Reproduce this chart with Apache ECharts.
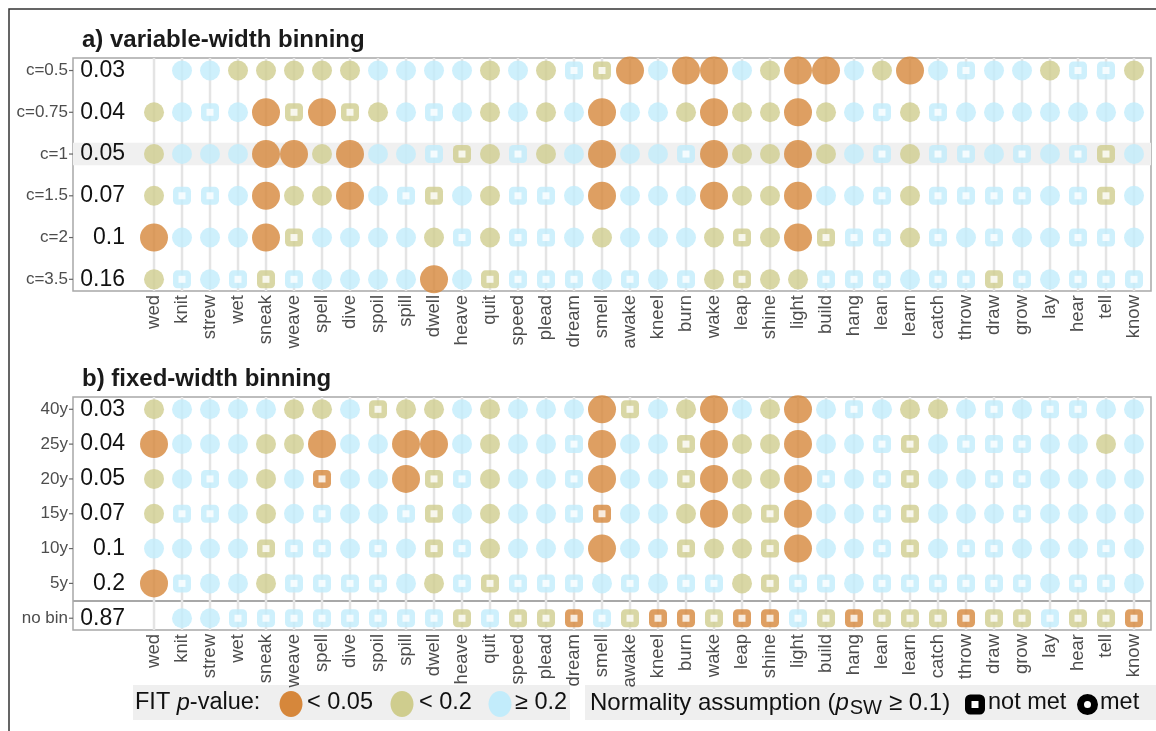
<!DOCTYPE html>
<html>
<head>
<meta charset="utf-8">
<script src="https://cdn.jsdelivr.net/npm/echarts@6/dist/echarts.min.js"></script>
<style>
html, body { margin: 0; padding: 0; background: #fff; }
#chart { width: 1156px; height: 731px; }
</style>
</head>
<body>
<div id="chart"></div>
<script>
// verbs on the x axis
var verbs = ['wed','knit','strew','wet','sneak','weave','spell','dive','spoil','spill','dwell','heave',
  'quit','speed','plead','dream','smell','awake','kneel','burn','wake','leap','shine','light','build',
  'hang','lean','learn','catch','throw','draw','grow','lay','hear','tell','know'];

var rowsA = ['c=0.5','c=0.75','c=1','c=1.5','c=2','c=3.5'];
var pA = ['0.03','0.04','0.05','0.07','0.1','0.16'];
var rowsB = ['40y','25y','20y','15y','10y','5y','no bin'];
var pB = ['0.03','0.04','0.05','0.07','0.1','0.2','0.87'];

// O/K/B = circle (normality met), o/k/b = square (not met); orange <0.05, khaki <0.2, blue >=0.2; - = none
var a_c05  = '-BBKKKKKBBBB KBKbkOBOOBKOO BKOBbBBKbbK';
var a_c075 = 'KBbBOkOkKBbB KBKBOBBKOKKOK BbKbBBBBBBB';
var a_c1   = 'KBBBOOKOBBbk KbKBOBBbOKKOK BbKbbBbBbkB';
var a_c15  = 'KbbBOKKOBbkB KbbBOBBBOKKOB BbKbbbbBbkB';
var a_c2   = 'OBBBOkBBBBKb KbbBKBBBKkKOk bbKbBbBBbbB';
var a_c35  = 'KbBbkbBBBBOB kbbbBbBbKkKKb bbBbbkbBbbb';

var b_40 = 'KBBBBKKBkKKB KBBBOkBKOBKOB bBKKBbBbbBB';
var b_25 = 'OBBBKKOBBOOB KBBbOBBkOKKOB BbkBbbbBBKB';
var b_20 = 'KBbBKBoBBOkb KBBbOBBkOKKOb BbkBBbbBBBB';
var b_15 = 'KbbBKBbBBbkB KBBboBBKOKkOB BbkBBBbBBBB';
var b_10 = 'BBBBkbbBbBkb KBBBOBBkKKkOB BbkBbbBBBbB';
var b_5  = 'ObBBKbbbbBKb kbbbBbBbbKkbb BbbbbbbBbbB';
var b_nb = '-BBbbbbbbbbk bkkobkookoobk okkkokkbkko';

var cellsA = [a_c05, a_c075, a_c1, a_c15, a_c2, a_c35];
var cellsB = [b_40, b_25, b_20, b_15, b_10, b_5, b_nb];

var ORANGE = '#D6873B', KHAKI = '#CFCD8E', BLUE = '#C2ECFB';
var GUIDE = '#e4e4e4';
var colorOf = { o: ORANGE, k: KHAKI, b: BLUE };
var X0 = 10; // column positions start at X0 so the x scale never contains zero

// marks: circles and squares, plus the white hole of the squares
function buildData(rows, holes) {
  var out = [];
  rows.forEach(function (s, r) {
    s.replace(/ /g, '').split('').forEach(function (c, i) {
      if (c === '-') return;
      var low = c.toLowerCase();
      var col = colorOf[low];
      var isSquare = c === low;
      var pos = [X0 + i, r];
      if (holes) {
        if (isSquare) out.push({ value: pos, symbol: 'rect', symbolSize: 7, itemStyle: { color: '#fff' } });
        return;
      }
      if (!isSquare) {
        out.push({ value: pos, symbol: 'circle', symbolSize: low === 'o' ? 28 : 20, itemStyle: { color: col } });
      } else {
        out.push({ value: pos, symbol: 'roundRect', symbolSize: 18, itemStyle: { color: col } });
      }
    });
  });
  return out;
}

var colPos = verbs.map(function (v, i) { return X0 + i; });
var FONT = 'Liberation Sans';
var hiddenLine = { show: false, onZero: false };

function xAxisFor(gi) {
  return {
    type: 'value', gridIndex: gi, min: X0 - 2.893, max: X0 + 35.607,
    axisLine: hiddenLine, axisTick: { show: false }, splitLine: { show: false },
    axisLabel: {
      customValues: colPos, rotate: 90, margin: 4,
      fontFamily: FONT, fontSize: 18.5, color: '#4d4d4d',
      formatter: function (v) { return verbs[Math.round(v) - X0]; }
    }
  };
}

function yAxesFor(gi, labels, pvals, min, max) {
  var idx = labels.map(function (v, i) { return i; });
  return [{
    type: 'value', gridIndex: gi, inverse: true, min: min, max: max, position: 'left', z: 5,
    axisLine: hiddenLine, splitLine: { show: false }, axisTick: { show: false },
    axisLabel: {
      customValues: idx, margin: 0, color: '#4d4d4d',
      formatter: function (v) { return '{l|' + labels[Math.round(v)] + '}{t|}'; },
      rich: {
        l: { fontFamily: FONT, fontSize: 17, color: '#4d4d4d', padding: [0, 1, 0, 0] },
        t: { width: 4, height: 1.2, backgroundColor: '#666' }
      }
    }
  }, {
    type: 'value', gridIndex: gi, inverse: true, min: min, max: max, position: 'left', z: 5,
    axisLine: hiddenLine, splitLine: { show: false }, axisTick: { show: false },
    axisLabel: {
      customValues: idx, inside: true, align: 'right', margin: 52,
      fontFamily: FONT, fontSize: 23, color: '#111',
      formatter: function (v) { return pvals[Math.round(v)]; }
    }
  }];
}

// vertical guide line through every verb column, full height of the panel
function guideSeries(xi, yi) {
  return {
    type: 'custom', xAxisIndex: xi, yAxisIndex: yi, silent: true, z: 2,
    data: colPos.map(function (p) { return [p]; }),
    renderItem: function (params, api) {
      var cs = params.coordSys;
      var x = api.coord([api.value(0), 0])[0];
      return { type: 'line', shape: { x1: x, y1: cs.y, x2: x, y2: cs.y + cs.height },
        style: { stroke: GUIDE, lineWidth: 2.5 } };
    }
  };
}

var option = {
  backgroundColor: '#fff',
  animation: false,
  grid: [
    { left: 73, right: 5, top: 58, bottom: 440, show: true, borderColor: '#a8a8a8', borderWidth: 1.5 },
    { left: 73, right: 5, top: 397, bottom: 101, show: true, borderColor: '#a8a8a8', borderWidth: 1.5 }
  ],
  xAxis: [xAxisFor(0), xAxisFor(1)],
  yAxis: yAxesFor(0, rowsA, pA, -0.3, 5.28).concat(yAxesFor(1, rowsB, pB, -0.353, 6.338)),
  series: [
    {
      type: 'line', xAxisIndex: 0, yAxisIndex: 0, data: [], silent: true, z: 1,
      markArea: { silent: true, z: 1, itemStyle: { color: '#f0f0f0' }, data: [[{ yAxis: 1.73 }, { yAxis: 2.27 }]] }
    },
    guideSeries(0, 0),
    guideSeries(1, 2),
    {
      type: 'line', xAxisIndex: 1, yAxisIndex: 2, data: [], silent: true, z: 2,
      markLine: { silent: true, z: 2, symbol: ['none', 'none'], label: { show: false },
        lineStyle: { color: '#a8a8a8', width: 2, type: 'solid' }, data: [{ yAxis: 5.5 }] }
    },
    { type: 'scatter', xAxisIndex: 0, yAxisIndex: 0, silent: true, z: 3, data: buildData(cellsA, false) },
    { type: 'scatter', xAxisIndex: 0, yAxisIndex: 0, silent: true, z: 4, data: buildData(cellsA, true) },
    { type: 'scatter', xAxisIndex: 1, yAxisIndex: 2, silent: true, z: 3, data: buildData(cellsB, false) },
    { type: 'scatter', xAxisIndex: 1, yAxisIndex: 2, silent: true, z: 4, data: buildData(cellsB, true) }
  ],
  graphic: [
    { type: 'polyline', shape: { points: [[9, 731], [9, 9], [1156, 9]] }, style: { stroke: '#333', lineWidth: 1.5, fill: null } },
    { type: 'text', x: 82, y: 40, style: { text: 'a) variable-width binning', font: 'bold 24px "Liberation Sans"', fill: '#1a1a1a', verticalAlign: 'middle' } },
    { type: 'text', x: 82, y: 379, style: { text: 'b) fixed-width binning', font: 'bold 24px "Liberation Sans"', fill: '#1a1a1a', verticalAlign: 'middle' } },
    // legend: FIT p-value
    { type: 'rect', shape: { x: 133, y: 685, width: 437, height: 35 }, style: { fill: '#efefef' } },
    { type: 'text', x: 135, y: 703, style: {
      text: '{n|FIT }{i|p}{n|-value:}', verticalAlign: 'middle', fill: '#111',
      rich: { n: { fontFamily: FONT, fontSize: 23.5, fill: '#111' }, i: { fontFamily: FONT, fontSize: 23.5, fontStyle: 'italic', fill: '#111' } } } },
    { type: 'ellipse', shape: { cx: 291, cy: 704, rx: 11.5, ry: 13 }, style: { fill: ORANGE } },
    { type: 'text', x: 307, y: 703, style: { text: '< 0.05', font: '23.5px "Liberation Sans"', fill: '#111', verticalAlign: 'middle' } },
    { type: 'ellipse', shape: { cx: 402, cy: 704, rx: 11.5, ry: 13 }, style: { fill: KHAKI } },
    { type: 'text', x: 419, y: 703, style: { text: '< 0.2', font: '23.5px "Liberation Sans"', fill: '#111', verticalAlign: 'middle' } },
    { type: 'ellipse', shape: { cx: 500, cy: 704, rx: 11.5, ry: 13 }, style: { fill: BLUE } },
    { type: 'text', x: 515, y: 703, style: { text: '≥ 0.2', font: '23.5px "Liberation Sans"', fill: '#111', verticalAlign: 'middle' } },
    // legend: normality
    { type: 'rect', shape: { x: 585, y: 685, width: 571, height: 35 }, style: { fill: '#efefef' } },
    { type: 'text', x: 590, y: 703, style: {
      text: '{n|Normality assumption (}{i|p}{s|SW}{n|≥ 0.1)}', verticalAlign: 'middle', fill: '#111',
      rich: {
        n: { fontFamily: FONT, fontSize: 24, fill: '#111' },
        i: { fontFamily: FONT, fontSize: 24, fontStyle: 'italic', fill: '#111' },
        s: { fontFamily: FONT, fontSize: 20, fill: '#111', padding: [11, 7, 0, 1] }
      } } },
    { type: 'rect', shape: { x: 968.25, y: 697.75, width: 13.5, height: 13.5, r: 2 }, style: { fill: '#fff', stroke: '#000', lineWidth: 6.5 } },
    { type: 'text', x: 988, y: 703, style: { text: 'not met', font: '23.5px "Liberation Sans"', fill: '#111', verticalAlign: 'middle' } },
    { type: 'circle', shape: { cx: 1087.5, cy: 704.5, r: 7 }, style: { fill: '#fff', stroke: '#000', lineWidth: 7 } },
    { type: 'text', x: 1100, y: 703, style: { text: 'met', font: '23.5px "Liberation Sans"', fill: '#111', verticalAlign: 'middle' } }
  ]
};

var chart = echarts.init(document.getElementById('chart'));
chart.setOption(option);
</script>
</body>
</html>
